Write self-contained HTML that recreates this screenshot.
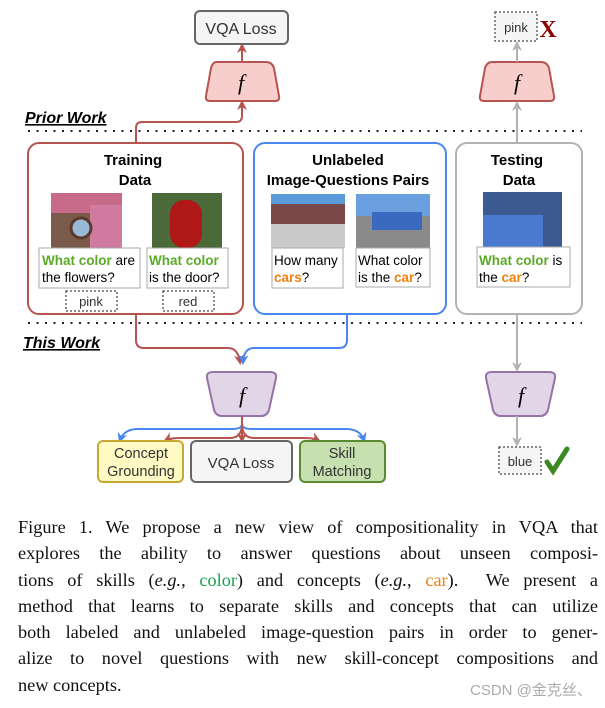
<!DOCTYPE html>
<html><head><meta charset="utf-8"><style>
body{margin:0;background:#fff;width:605px;height:708px;overflow:hidden;position:relative}
svg{position:absolute;left:0;top:0}
.cap{position:absolute;left:18px;width:580px;font-family:"Liberation Serif",serif;font-size:18.3px;line-height:26.3px;top:514px;text-align:justify;color:#111}
.cap div{text-align-last:justify;white-space:nowrap}
.wm{position:absolute;left:470px;top:679px;font-family:"Liberation Sans","Noto Sans CJK SC",sans-serif;font-size:15px;color:#aaa}
</style></head><body>
<svg width="605" height="708" viewBox="0 0 605 708" font-family="Liberation Sans, sans-serif">
<defs>
<marker id="ar" markerWidth="10" markerHeight="10" refX="7" refY="5" orient="auto" markerUnits="userSpaceOnUse"><path d="M0,0 L10,5 L0,10 L3,5z" fill="#b85450"/></marker>
<marker id="ab" markerWidth="10" markerHeight="10" refX="7" refY="5" orient="auto" markerUnits="userSpaceOnUse"><path d="M0,0 L10,5 L0,10 L3,5z" fill="#4a86f0"/></marker>
<marker id="ag" markerWidth="10" markerHeight="10" refX="7" refY="5" orient="auto" markerUnits="userSpaceOnUse"><path d="M0,0 L10,5 L0,10 L3,5z" fill="#b3b3b3"/></marker>
</defs>
<rect x="195" y="11" width="93" height="33" rx="5" fill="#f5f5f5" stroke="#666" stroke-width="2"/>
<text x="241" y="34" font-size="16" text-anchor="middle" fill="#333">VQA Loss</text>
<path d="M216,62 H266 Q272,62 274,68 L279,96 Q280,101 275,101 H210 Q205,101 206,96 L211,68 Q213,62 216,62z" fill="#f8cecc" stroke="#b85450" stroke-width="2"/>
<text x="241" y="90" font-size="22" font-style="italic" font-family="Liberation Serif,serif" text-anchor="middle">f</text>
<line x1="242" y1="62" x2="242" y2="46" stroke="#b85450" stroke-width="2" marker-end="url(#ar)"/>
<path d="M136,143 V128 Q136,122 142,122 H236 Q242,122 242,116 V103" fill="none" stroke="#b85450" stroke-width="2" marker-end="url(#ar)"/>
<rect x="495" y="12" width="42" height="29" fill="#f5f5f5" stroke="#666" stroke-width="1.5" stroke-dasharray="2,2"/>
<text x="516" y="32" font-size="13" text-anchor="middle" fill="#333">pink</text>
<text x="548" y="37" font-size="24" font-weight="bold" fill="#8b0000" text-anchor="middle" font-family="Liberation Serif,serif">X</text>
<path d="M492,62 H541 Q547,62 549,68 L554,96 Q555,101 550,101 H484 Q479,101 480,96 L485,68 Q487,62 492,62z" fill="#f8cecc" stroke="#b85450" stroke-width="2"/>
<text x="517" y="90" font-size="22" font-style="italic" font-family="Liberation Serif,serif" text-anchor="middle">f</text>
<line x1="517" y1="62" x2="517" y2="44" stroke="#b3b3b3" stroke-width="2" marker-end="url(#ag)"/>
<line x1="517" y1="143" x2="517" y2="104" stroke="#b3b3b3" stroke-width="2" marker-end="url(#ag)"/>
<text x="25" y="123" font-size="16" font-weight="bold" font-style="italic" text-decoration="underline">Prior Work</text>
<line x1="28" y1="131" x2="582" y2="131" stroke="#222" stroke-width="2" stroke-dasharray="2,6.5"/>
<line x1="28" y1="323" x2="582" y2="323" stroke="#222" stroke-width="2" stroke-dasharray="2,6.5"/>
<text x="23" y="348" font-size="16" font-weight="bold" font-style="italic" text-decoration="underline">This Work</text>
<rect x="28" y="143" width="215" height="171" rx="11" fill="#fff" stroke="#b85450" stroke-width="2"/>
<text x="133" y="165" font-size="15" font-weight="bold" text-anchor="middle">Training</text>
<text x="135" y="185" font-size="15" font-weight="bold" text-anchor="middle">Data</text>
<rect x="51" y="193" width="71" height="55" fill="#7a5a4a"/>
<rect x="51" y="193" width="71" height="20" fill="#c86a8a"/>
<rect x="90" y="205" width="32" height="43" fill="#d07aa0"/>
<circle cx="81" cy="228" r="10" fill="#9ab8d8" stroke="#5a3a2a" stroke-width="3"/>
<rect x="152" y="193" width="70" height="55" fill="#4a6a3a"/>
<rect x="170" y="200" width="32" height="48" rx="14" fill="#b01818"/>
<rect x="39" y="248" width="101" height="40" fill="#fff" stroke="#aaa"/>
<text x="42" y="265" font-size="13.5"><tspan fill="#5aaa28" font-weight="bold">What color</tspan> are</text>
<text x="42" y="282" font-size="13.5">the flowers?</text>
<rect x="147" y="248" width="81" height="40" fill="#fff" stroke="#aaa"/>
<text x="149" y="265" font-size="13.5" fill="#5aaa28" font-weight="bold">What color</text>
<text x="149" y="282" font-size="13.5">is the door?</text>
<rect x="66" y="291" width="51" height="20" fill="#fff" stroke="#666" stroke-width="1.5" stroke-dasharray="2,2"/>
<text x="91" y="306" font-size="13" text-anchor="middle" fill="#333">pink</text>
<rect x="163" y="291" width="51" height="20" fill="#fff" stroke="#666" stroke-width="1.5" stroke-dasharray="2,2"/>
<text x="188" y="306" font-size="13" text-anchor="middle" fill="#333">red</text>
<rect x="254" y="143" width="192" height="171" rx="11" fill="#fff" stroke="#4a86f0" stroke-width="2"/>
<text x="348" y="165" font-size="15" font-weight="bold" text-anchor="middle">Unlabeled</text>
<text x="348" y="185" font-size="15" font-weight="bold" text-anchor="middle">Image-Questions Pairs</text>
<rect x="271" y="194" width="74" height="54" fill="#c9c9c9"/>
<rect x="271" y="194" width="74" height="10" fill="#5a9ad8"/>
<rect x="271" y="204" width="74" height="20" fill="#7a4a4a"/>
<rect x="356" y="194" width="74" height="54" fill="#8a8a8a"/>
<rect x="356" y="194" width="74" height="22" fill="#6aa0e0"/>
<rect x="372" y="212" width="50" height="18" fill="#3a6ac0"/>
<rect x="272" y="248" width="71" height="40" fill="#fff" stroke="#aaa"/>
<text x="274" y="265" font-size="13.5">How many</text>
<text x="274" y="282" font-size="13.5"><tspan fill="#f08010" font-weight="bold">cars</tspan>?</text>
<rect x="356" y="248" width="74" height="39" fill="#fff" stroke="#aaa"/>
<text x="358" y="265" font-size="13.5">What color</text>
<text x="358" y="282" font-size="13.5">is the <tspan fill="#f08010" font-weight="bold">car</tspan>?</text>
<rect x="456" y="143" width="126" height="171" rx="11" fill="#fff" stroke="#b3b3b3" stroke-width="2"/>
<text x="517" y="165" font-size="15" font-weight="bold" text-anchor="middle">Testing</text>
<text x="519" y="185" font-size="15" font-weight="bold" text-anchor="middle">Data</text>
<rect x="483" y="192" width="79" height="56" fill="#3a5a90"/>
<rect x="483" y="215" width="60" height="33" fill="#4a7ad0"/>
<rect x="477" y="247" width="93" height="40" fill="#fff" stroke="#aaa"/>
<text x="479" y="265" font-size="13.5"><tspan fill="#5aaa28" font-weight="bold">What color</tspan> is</text>
<text x="479" y="282" font-size="13.5">the <tspan fill="#f08010" font-weight="bold">car</tspan>?</text>
<path d="M136,314 V340 Q136,348 144,348 H228 Q238,348 240,362" fill="none" stroke="#b85450" stroke-width="2" marker-end="url(#ar)"/>
<path d="M347,314 V340 Q347,348 339,348 H254 Q244,348 243,362" fill="none" stroke="#4a86f0" stroke-width="2" marker-end="url(#ab)"/>
<path d="M213,372 H270 Q277,372 276,378 L269,410 Q267,416 261,416 H222 Q216,416 214,410 L207,378 Q206,372 213,372z" fill="#e1d5e7" stroke="#9673a6" stroke-width="2"/>
<text x="242" y="403" font-size="22" font-style="italic" font-family="Liberation Serif,serif" text-anchor="middle">f</text>
<path d="M242,416 V424 Q242,429 232,429 H138 Q124,429 120,440" fill="none" stroke="#4a86f0" stroke-width="2" marker-end="url(#ab)"/>
<path d="M242,416 V424 Q242,429 252,429 H346 Q360,429 364,440" fill="none" stroke="#4a86f0" stroke-width="2" marker-end="url(#ab)"/>
<path d="M242,424 Q242,438 230,438 H182 Q170,438 166,440" fill="none" stroke="#b85450" stroke-width="2" marker-end="url(#ar)"/>
<path d="M242,424 Q242,438 254,438 H302 Q314,438 318,440" fill="none" stroke="#b85450" stroke-width="2" marker-end="url(#ar)"/>
<line x1="242" y1="416" x2="242" y2="440" stroke="#b85450" stroke-width="2" marker-end="url(#ar)"/>
<rect x="98" y="441" width="85" height="41" rx="5" fill="#fff9c4" stroke="#c8a832" stroke-width="2"/>
<text x="141" y="458" font-size="14.5" text-anchor="middle" fill="#333">Concept</text>
<text x="141" y="476" font-size="14.5" text-anchor="middle" fill="#333">Grounding</text>
<rect x="191" y="441" width="101" height="41" rx="5" fill="#f5f5f5" stroke="#666" stroke-width="2"/>
<text x="241" y="468" font-size="15" text-anchor="middle" fill="#333">VQA Loss</text>
<rect x="300" y="441" width="85" height="41" rx="5" fill="#c6e0b0" stroke="#5a8a32" stroke-width="2"/>
<text x="342" y="458" font-size="14.5" text-anchor="middle" fill="#333">Skill</text>
<text x="342" y="476" font-size="14.5" text-anchor="middle" fill="#333">Matching</text>
<line x1="517" y1="314" x2="517" y2="369" stroke="#b3b3b3" stroke-width="2" marker-end="url(#ag)"/>
<path d="M492,372 H549 Q556,372 555,378 L548,410 Q546,416 540,416 H501 Q495,416 493,410 L486,378 Q485,372 492,372z" fill="#e1d5e7" stroke="#9673a6" stroke-width="2"/>
<text x="521" y="403" font-size="22" font-style="italic" font-family="Liberation Serif,serif" text-anchor="middle">f</text>
<line x1="517" y1="416" x2="517" y2="444" stroke="#b3b3b3" stroke-width="2" marker-end="url(#ag)"/>
<rect x="499" y="447" width="42" height="27" fill="#f5f5f5" stroke="#666" stroke-width="1.5" stroke-dasharray="2,2"/>
<text x="520" y="466" font-size="13" text-anchor="middle" fill="#333">blue</text>
<path d="M547,462 L553,471 L567,449" fill="none" stroke="#3a8a20" stroke-width="5" stroke-linecap="round"/>
</svg>
<div class="cap">
<div>Figure 1. We propose a new view of compositionality in VQA that</div>
<div>explores the ability to answer questions about unseen composi-</div>
<div>tions of skills (<i>e.g.</i>, <span style="color:#1aa050">color</span>) and concepts (<i>e.g.</i>, <span style="color:#f08010">car</span>). &nbsp;We present a</div>
<div>method that learns to separate skills and concepts that can utilize</div>
<div>both labeled and unlabeled image-question pairs in order to gener-</div>
<div>alize to novel questions with new skill-concept compositions and</div>
<div style="text-align-last:left">new concepts.</div>
</div>
<div class="wm">CSDN @金克丝、</div>
</body></html>
